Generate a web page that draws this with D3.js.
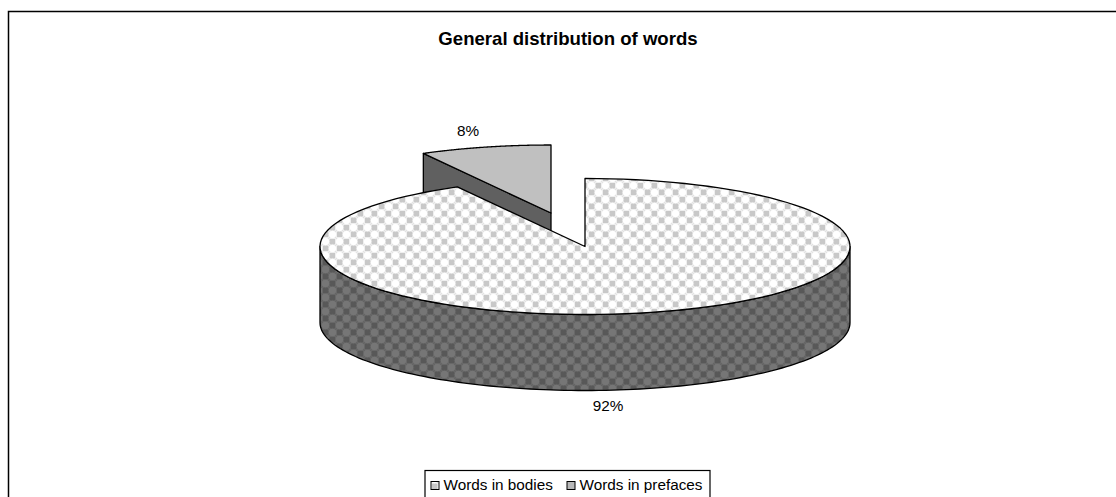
<!DOCTYPE html>
<html>
<head>
<meta charset="utf-8">
<script src="https://cdn.jsdelivr.net/npm/d3@7"></script>
<style>
  html, body { margin: 0; padding: 0; background: #fff; }
  svg { display: block; }
  text { font-family: "Liberation Sans", Arial, sans-serif; fill: #000; }
</style>
</head>
<body>
<div id="chart"></div>
<script>
// values
var categories = ["Words in bodies", "Words in prefaces"];
var shares = [92, 8];
var chartTitle = "General distribution of words";

var width = 1116, height = 497;

var svg = d3.select("#chart").append("svg")
  .attr("width", width)
  .attr("height", height);

// the dotted fill used by the big slice, light for the top and dark for the wall
function addPattern(id, bg, square, circle, ring) {
  var p = svg.append("defs").append("pattern")
    .attr("id", id)
    .attr("patternUnits", "userSpaceOnUse")
    .attr("width", 14)
    .attr("height", 14);
  p.append("rect").attr("width", 14).attr("height", 14).attr("fill", bg);
  [[7, 0], [0, 7]].forEach(function(d) {
    p.append("rect").attr("x", d[0] + 1).attr("y", d[1] + 1)
      .attr("width", 5).attr("height", 5).attr("fill", square);
  });
  [[10.5, 10.5], [3.5, 3.5]].forEach(function(d) {
    p.append("circle").attr("cx", d[0]).attr("cy", d[1]).attr("r", 4.1)
      .attr("fill", circle).attr("stroke", ring).attr("stroke-width", 0.9);
  });
}
addPattern("dotsLight", "#efefef", "#c8c8c8", "#ffffff", "#dadada");
addPattern("dotsDark", "#686868", "#585858", "#767676", "#606060");

// outer frame, only top and left show
svg.append("path")
  .attr("d", d3.line()([[8.5, height], [8.5, 11.5], [width, 11.5]]))
  .attr("fill", "none")
  .attr("stroke", "#000")
  .attr("stroke-width", 1.5);

svg.append("text")
  .attr("x", 568)
  .attr("y", 45)
  .attr("text-anchor", "middle")
  .style("font-size", "18.6px")
  .style("font-weight", "bold")
  .text(chartTitle);

// pie geometry, slices are laid out clockwise from 12 o'clock
var cx = 585, cy = 246.5, rx = 265, ry = 68, depth = 76;
var explode = [-34, -33.5];

var pie = d3.pie().sort(null).value(function(d) { return d; });
var arcs = pie(shares);

var xs = d3.scaleLinear().domain([-1, 1]).range([cx - rx, cx + rx]);
var ys = d3.scaleLinear().domain([-1, 1]).range([cy - ry, cy + ry]);
function onRim(a) { return [xs(Math.sin(a)), ys(-Math.cos(a))]; }

function rimPoints(a0, a1) {
  return d3.range(0, 121).map(function(i) {
    return onRim(a0 + (a1 - a0) * i / 120);
  });
}
function shifted(pts, dx, dy) {
  return pts.map(function(p) { return [p[0] + dx, p[1] + dy]; });
}
var line = d3.line();
function closedPath(pts) { return line(pts) + "Z"; }

function stroked(sel, fill) {
  return sel.attr("fill", fill)
    .attr("stroke", "#000")
    .attr("stroke-width", 1.3)
    .attr("stroke-linejoin", "round");
}

// small slice first, the big one sits in front of it
var small = arcs[1];
var gSmall = svg.append("g")
  .attr("transform", "translate(" + explode[0] + "," + explode[1] + ")");
var smallRim = rimPoints(small.startAngle, small.endAngle);
var far = onRim(small.startAngle);
// cut face running from the centre out to the far corner
stroked(gSmall.append("path"), "#606060")
  .attr("d", closedPath([[cx, cy], far, [far[0], far[1] + depth], [cx, cy + depth]]));
stroked(gSmall.append("path"), "#c0c0c0")
  .attr("d", closedPath([[cx, cy]].concat(smallRim)));

// big slice: wall then top
var big = arcs[0];
var frontRim = rimPoints(Math.PI / 2, 3 * Math.PI / 2);
stroked(svg.append("path"), "url(#dotsDark)")
  .attr("d", closedPath(frontRim.concat(shifted(frontRim, 0, depth).reverse())));
stroked(svg.append("path"), "url(#dotsLight)")
  .attr("d", closedPath([[cx, cy]].concat(rimPoints(big.startAngle, big.endAngle))));

// percent labels
var labelPos = [[608, 411], [468, 136]];
svg.selectAll("text.pct")
  .data(arcs)
  .enter().append("text")
  .attr("class", "pct")
  .attr("x", function(d, i) { return labelPos[i][0]; })
  .attr("y", function(d, i) { return labelPos[i][1]; })
  .attr("text-anchor", "middle")
  .style("font-size", "15.3px")
  .text(function(d) { return d.data + "%"; });

// legend, cut off by the bottom of the picture
var legend = svg.append("g");
legend.append("rect")
  .attr("x", 425).attr("y", 470.5)
  .attr("width", 285).attr("height", 40)
  .attr("fill", "#fff").attr("stroke", "#000").attr("stroke-width", 1.2);

var legendX = d3.scaleOrdinal().domain(categories).range([431, 567]);
var legendFill = d3.scaleOrdinal().domain(categories).range(["url(#dotsLight)", "#b8b8b8"]);
var items = legend.selectAll("g.item")
  .data(categories)
  .enter().append("g")
  .attr("class", "item")
  .attr("transform", function(d) { return "translate(" + legendX(d) + ",0)"; });
items.append("rect")
  .attr("y", 481.5).attr("width", 8).attr("height", 8)
  .attr("fill", function(d) { return legendFill(d); })
  .attr("stroke", "#000").attr("stroke-width", 1);
items.append("text")
  .attr("x", 12.5)
  .attr("y", 490)
  .style("font-size", "15.3px")
  .text(function(d) { return d; });
</script>
</body>
</html>
